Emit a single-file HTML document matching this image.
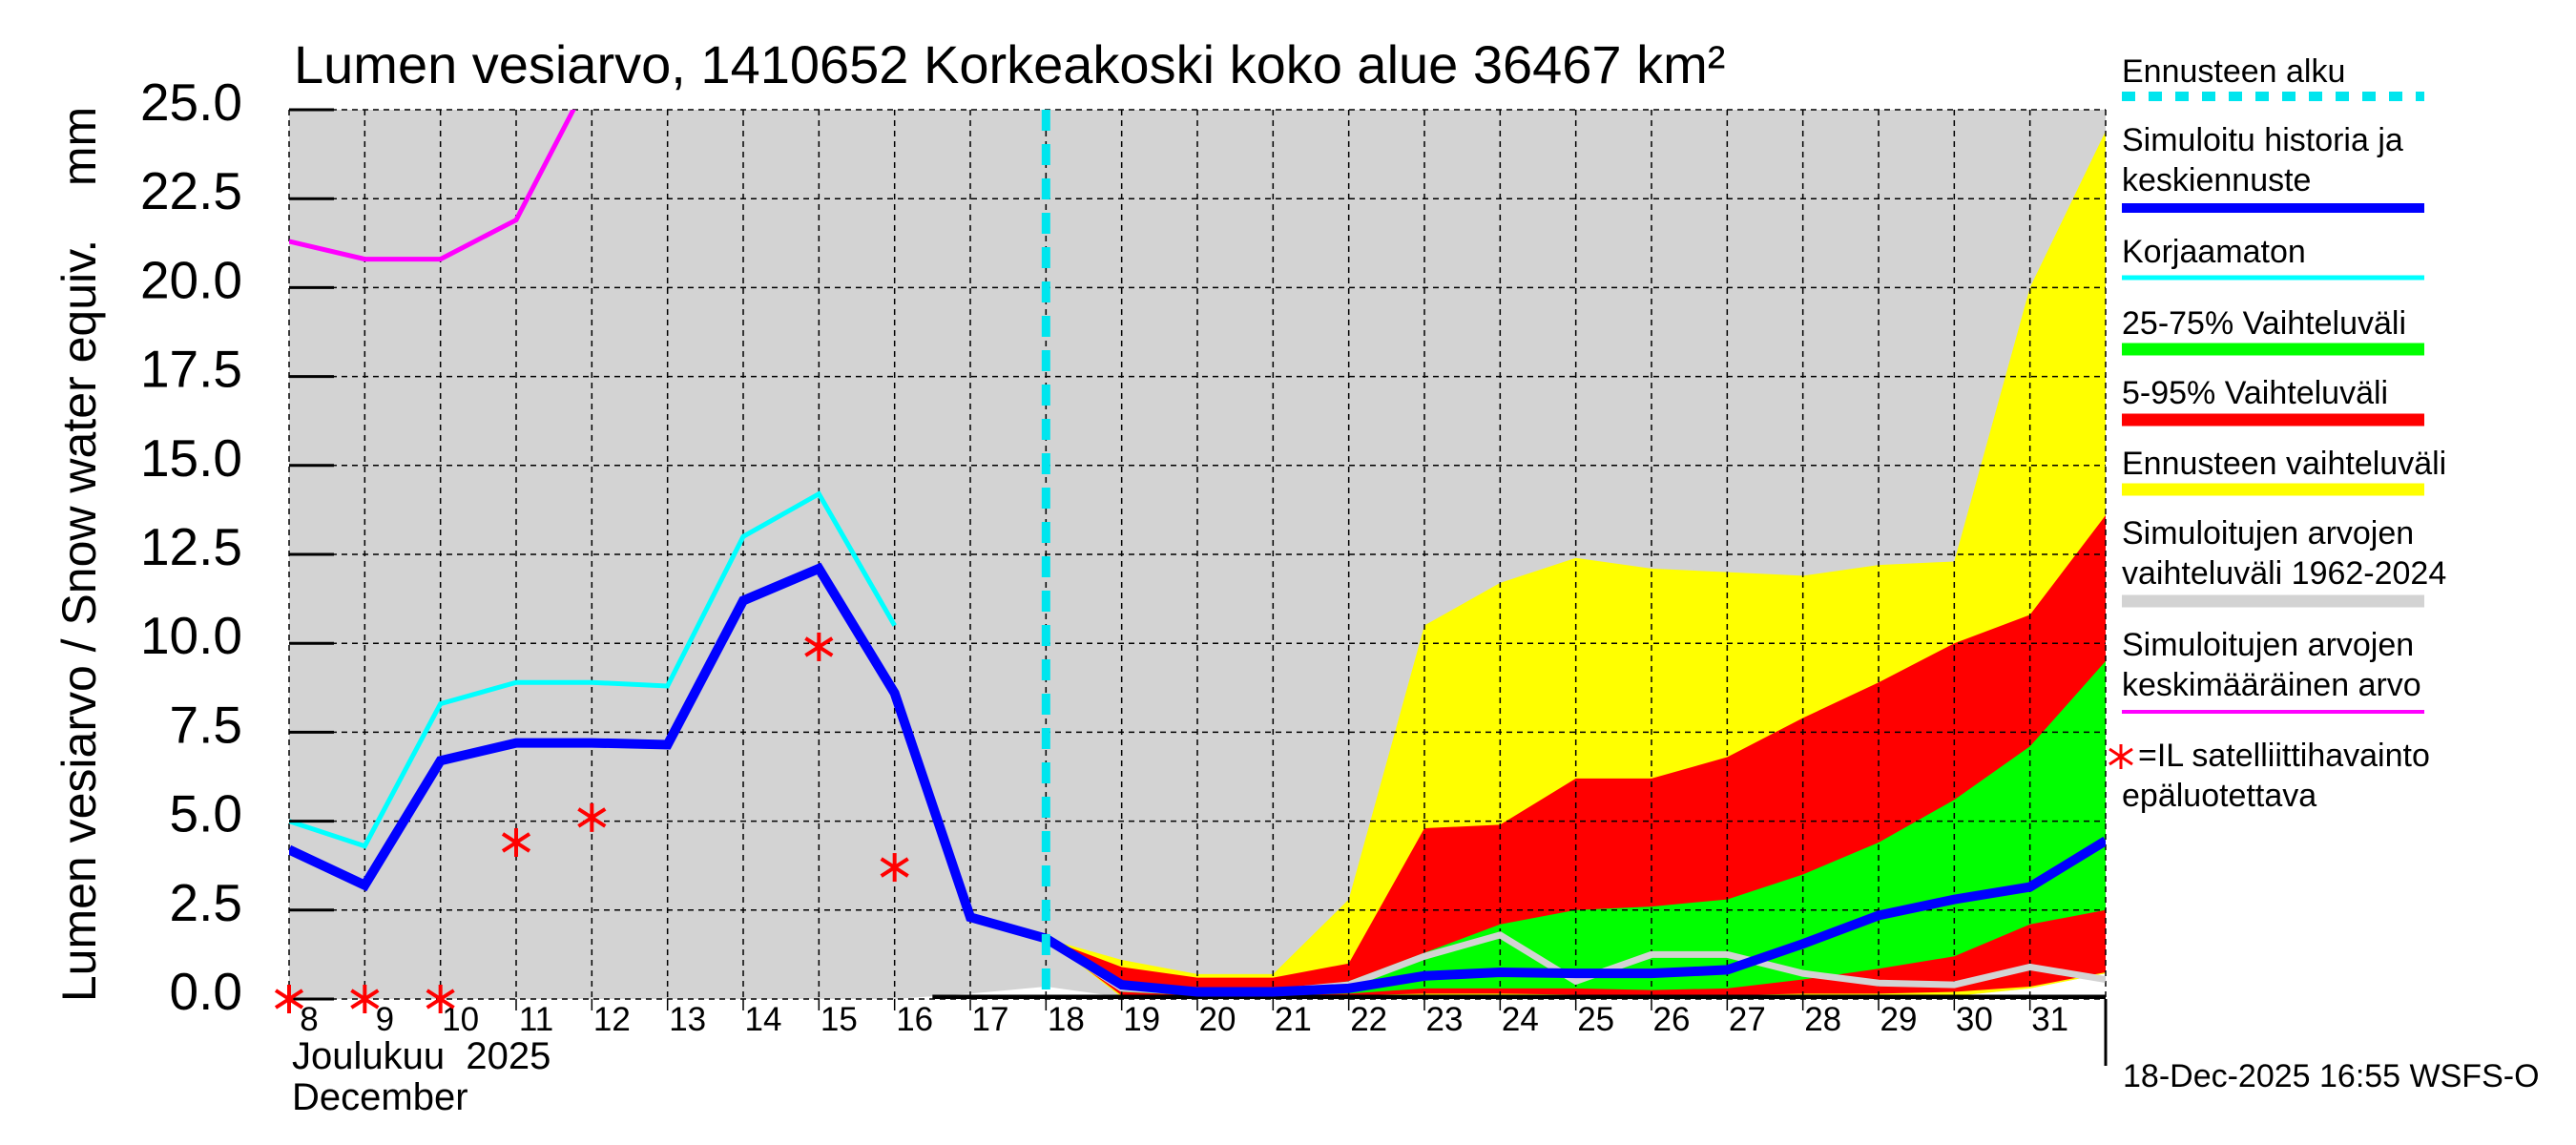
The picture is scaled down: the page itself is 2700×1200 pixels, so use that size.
<!DOCTYPE html>
<html><head><meta charset="utf-8"><style>
html,body{margin:0;padding:0;background:#fff}
svg{display:block}
text{font-family:"Liberation Sans",sans-serif;fill:#000}
</style></head><body>
<svg id="chart" width="2700" height="1200" viewBox="0 0 2700 1200" xmlns="http://www.w3.org/2000/svg">
<defs><clipPath id="plotclip"><rect x="303" y="115" width="1904" height="932"/></clipPath></defs>
<text x="308" y="87" font-size="56">Lumen vesiarvo, 1410652 Korkeakoski koko alue 36467 km²</text>
<rect x="303" y="115" width="1904" height="932" fill="#d3d3d3"/>
<g id="marks" clip-path="url(#plotclip)"></g>
<g id="grid"></g>
<g id="overlay" clip-path="url(#plotclip)"></g>
<g id="axes"></g>
<text transform="translate(100,581) rotate(-90)" text-anchor="middle" font-size="50" xml:space="preserve">Lumen vesiarvo / Snow water equiv.    mm</text>
<text x="306" y="1120" font-size="40" xml:space="preserve">Joulukuu  2025</text>
<text x="306" y="1163" font-size="40">December</text>
<line x1="2207" y1="1047" x2="2207" y2="1117" stroke="#000" stroke-width="3"/>
<text x="2225" y="1139" font-size="34">18-Dec-2025 16:55 WSFS-O</text>
<g id="legend">
<text x="2224" y="86" font-size="34">Ennusteen alku</text>
<line x1="2224" y1="101" x2="2541" y2="101" stroke="#00e5ee" stroke-width="10" stroke-dasharray="14,14"/>
<text x="2224" y="158" font-size="34">Simuloitu historia ja</text>
<text x="2224" y="200" font-size="34">keskiennuste</text>
<line x1="2224" y1="218" x2="2541" y2="218" stroke="#0000ff" stroke-width="10"/>
<text x="2224" y="275" font-size="34">Korjaamaton</text>
<line x1="2224" y1="291" x2="2541" y2="291" stroke="#00ffff" stroke-width="5"/>
<text x="2224" y="350" font-size="34">25-75% Vaihteluväli</text>
<line x1="2224" y1="366" x2="2541" y2="366" stroke="#00ff00" stroke-width="13"/>
<text x="2224" y="423" font-size="34">5-95% Vaihteluväli</text>
<line x1="2224" y1="440" x2="2541" y2="440" stroke="#ff0000" stroke-width="13"/>
<text x="2224" y="497" font-size="34">Ennusteen vaihteluväli</text>
<line x1="2224" y1="513" x2="2541" y2="513" stroke="#ffff00" stroke-width="13"/>
<text x="2224" y="570" font-size="34">Simuloitujen arvojen</text>
<text x="2224" y="612" font-size="34">vaihteluväli 1962-2024</text>
<line x1="2224" y1="630" x2="2541" y2="630" stroke="#d3d3d3" stroke-width="13"/>
<text x="2224" y="687" font-size="34">Simuloitujen arvojen</text>
<text x="2224" y="729" font-size="34">keskimääräinen arvo</text>
<line x1="2224" y1="746" x2="2541" y2="746" stroke="#ff00ff" stroke-width="4"/>
<g stroke="#ff0000" stroke-width="3"><line x1="2223" y1="780" x2="2223" y2="806"/><line x1="2211" y1="785" x2="2235" y2="801"/><line x1="2211" y1="801" x2="2235" y2="785"/></g>
<text x="2241" y="803" font-size="34">=IL satelliittihavainto</text>
<text x="2224" y="845" font-size="34">epäluotettava</text>
</g>
</svg>
<script>
// ---- data ----
const meanDays = [8,9,10,11,12,13];
const meanValues = [21.3,20.8,20.8,21.9,26,30];
const uncorrDays = [8,9,10,11,12,13,14,15,16];
const uncorrValues = [5.0,4.3,8.3,8.9,8.9,8.8,13.0,14.2,10.5];
const simDays = [8,9,10,11,12,13,14,15,16,17,18,19,20,21,22,23,24,25,26,27,28,29,30,31,32];
const simValues = [4.2,3.2,6.7,7.2,7.2,7.15,11.2,12.1,8.6,2.3,1.7,0.4,0.2,0.2,0.3,0.65,0.75,0.72,0.72,0.82,1.55,2.35,2.8,3.15,4.45];
const fcDays = [18,19,20,21,22,23,24,25,26,27,28,29,30,31,32];
const fcMax = [1.7,1.1,0.7,0.7,2.8,10.5,11.7,12.4,12.1,12.0,11.9,12.2,12.3,20.0,24.4];
const fc95 = [1.7,0.9,0.6,0.6,1.0,4.8,4.9,6.2,6.2,6.8,7.9,8.9,10.0,10.8,13.6];
const fc75 = [1.7,0.4,0.2,0.2,0.5,1.3,2.1,2.5,2.6,2.8,3.5,4.4,5.6,7.1,9.5];
const fc25 = [1.7,0.2,0.1,0.1,0.15,0.3,0.3,0.3,0.25,0.3,0.55,0.85,1.2,2.1,2.5];
const fc5 = [1.7,0.1,0.05,0.05,0.1,0.15,0.15,0.12,0.08,0.1,0.15,0.15,0.2,0.35,0.75];
const fcMin = [1.7,0.05,0.0,0.0,0.03,0.05,0.05,0.05,0.03,0.03,0.05,0.05,0.08,0.3,0.72];
const belowMin = [0.35,0.05,0.0,0.0,0.03,0.05,0.05,0.05,0.03,0.03,0.05,0.05,0.08,0.3,0.72];
const greyDays = [18,19,20,21,22,23,24,25,26,27,28,29,30,31,32];
const greyValues = [1.7,0.3,0.2,0.2,0.4,1.2,1.8,0.5,1.25,1.25,0.72,0.45,0.4,0.9,0.55];
const histMinDays = [16,17,18];
const histMinValues = [0,0.15,0.35];
const obsDays = [8,9,10,11,12,15,16];
const obsValues = [0,0,0,4.4,5.1,9.9,3.7];
const forecastStart = 18;
const xTickDays = [8,9,10,11,12,13,14,15,16,17,18,19,20,21,22,23,24,25,26,27,28,29,30,31];
const yTicks = [0,2.5,5,7.5,10,12.5,15,17.5,20,22.5,25];
const yTickLabels = ["0.0","2.5","5.0","7.5","10.0","12.5","15.0","17.5","20.0","22.5","25.0"];

// ---- axes ----
const X0=303, X1=2207, Y0=1047, Y1=115, D0=8, D1=32, V1=25;
const xs = d => X0 + (d-D0)*(X1-X0)/(D1-D0);
const ys = v => Y0 - v*(Y0-Y1)/V1;
const NS='http://www.w3.org/2000/svg';
function mk(tag, attrs, parent){const e=document.createElementNS(NS,tag);for(const k in attrs)e.setAttribute(k,attrs[k]);parent.appendChild(e);return e;}
const marks=document.getElementById('marks'), grid=document.getElementById('grid'), overlay=document.getElementById('overlay'), axes=document.getElementById('axes');
function band(days, hi, lo, color, name){
  let pts=days.map((d,i)=>xs(d)+','+ys(hi[i]));
  for(let i=days.length-1;i>=0;i--) pts.push(xs(days[i])+','+ys(lo[i]));
  const p=mk('polygon',{points:pts.join(' '),fill:color},marks);
  
  
}
function line(days, vals, color, w, name, parent){
  const p=mk('polyline',{points:days.map((d,i)=>xs(d)+','+ys(vals[i])).join(' '),fill:'none',stroke:color,'stroke-width':w,'stroke-linejoin':'miter'},parent||marks);
  
  
}
band(histMinDays, histMinValues, histMinDays.map(()=>0), '#ffffff', 'hist-range-min-area');
band(fcDays, belowMin, fcDays.map(()=>0), '#ffffff', 'below-forecast-area');
band(fcDays, fcMax, fcMin, '#ffff00', 'forecast-range-band');
band(fcDays, fc95, fc5, '#ff0000', 'band-5-95');
band(fcDays, fc75, fc25, '#00ff00', 'band-25-75');

yTicks.forEach((v,i)=>{
  const g=mk('line',{x1:X0,x2:X1,y1:ys(v),y2:ys(v),stroke:'#000','stroke-width':1.5,'stroke-dasharray':'6,5'},grid);
  
  
  const t=mk('line',{x1:X0,x2:X0+47,y1:ys(v),y2:ys(v),stroke:'#000','stroke-width':3},axes);
  
  
  const l=mk('text',{x:254,y:ys(v)+11,'text-anchor':'end','font-size':55},axes);
  l.textContent=yTickLabels[i];
  
  
});
xTickDays.forEach(d=>{
  const g=mk('line',{x1:xs(d),x2:xs(d),y1:Y1,y2:Y0,stroke:'#000','stroke-width':1.5,'stroke-dasharray':'6,5'},grid);
  
  
  const t=mk('line',{x1:xs(d),x2:xs(d),y1:Y0,y2:Y0+12,stroke:'#000','stroke-width':1.5},axes);
  
  
  const l=mk('text',{x:xs(d)+21,y:1080,'text-anchor':'middle','font-size':35},axes);
  l.textContent=String(d);
  
  
});
const lg=mk('line',{x1:X1,x2:X1,y1:Y1,y2:Y0,stroke:'#000','stroke-width':1.5,'stroke-dasharray':'6,5'},grid);



const bl=mk('line',{x1:xs(16.5),x2:X1,y1:Y0-2,y2:Y0-2,stroke:'#000','stroke-width':5},overlay);


line(greyDays, greyValues, '#d3d3d3', 7, 'hist-range-line', overlay);
line(meanDays, meanValues, '#ff00ff', 5, 'hist-mean-line', overlay);
line(uncorrDays, uncorrValues, '#00ffff', 5, 'uncorrected-line', overlay);
line(simDays, simValues, '#0000ff', 10, 'simulated-line', overlay);
const fs=mk('line',{x1:xs(forecastStart),x2:xs(forecastStart),y1:Y1,y2:Y0,stroke:'#00e5ee','stroke-width':9,'stroke-dasharray':'22,14'},overlay);



const svg=document.getElementById('chart');
obsDays.forEach((d,i)=>{
  const cx=xs(d), cy=ys(obsValues[i]);
  const g=mk('g',{stroke:'#ff0000','stroke-width':4},svg);
  
  
  mk('line',{x1:cx,x2:cx,y1:cy-15,y2:cy+15},g);
  mk('line',{x1:cx-14,x2:cx+14,y1:cy-9,y2:cy+9},g);
  mk('line',{x1:cx-14,x2:cx+14,y1:cy+9,y2:cy-9},g);
});
</script>
</body></html>
